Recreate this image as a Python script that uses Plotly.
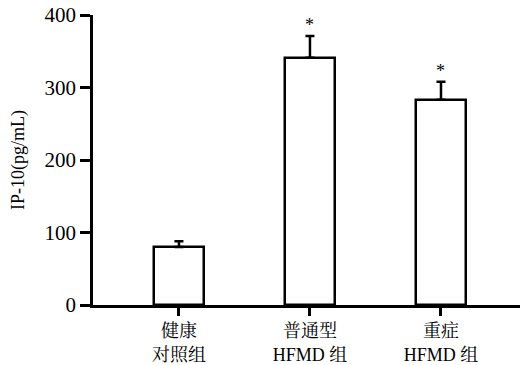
import plotly.graph_objects as go

categories = ["健康<br>对照组", "普通型<br>HFMD 组", "重症<br>HFMD 组"]
means = [80, 341, 283]
err_upper = [8, 30, 25]
y_ticks = [0, 100, 200, 300, 400]
sig_marks = ["", "*", "*"]

font_fam = "Liberation Serif, Noto Serif CJK SC, Noto Sans CJK SC, serif"

xs = list(range(len(categories)))

fig = go.Figure()
fig.add_trace(go.Bar(
    x=xs, y=means, width=0.375,
    marker=dict(color="white", line=dict(color="black", width=2.5)),
    error_y=dict(type="data", symmetric=False, array=err_upper,
                 arrayminus=[0] * len(means), color="black",
                 thickness=2.5, width=4.5),
    showlegend=False, hoverinfo="skip",
))

for x, m, e, s in zip(xs, means, err_upper, sig_marks):
    if s:
        fig.add_annotation(x=x, y=m + e, text=s, showarrow=False,
                           yanchor="bottom", yshift=-1,
                           font=dict(family=font_fam, size=18, color="black"))

fig.update_layout(
    width=526, height=365,
    margin=dict(l=93, r=6, t=15, b=60),
    plot_bgcolor="white", paper_bgcolor="white",
    font=dict(family=font_fam, color="black"),
    bargap=0,
)
fig.update_xaxes(
    range=[-0.656, 2.603], tickmode="array", tickvals=xs, ticktext=categories,
    showline=True, linecolor="black", linewidth=2.5,
    ticks="outside", ticklen=8, tickwidth=2.5, tickcolor="black",
    tickfont=dict(family=font_fam, size=18, color="black"),
    showgrid=False, zeroline=False, automargin=False,
)
fig.update_yaxes(
    range=[0, 400], tickmode="array", tickvals=y_ticks,
    showline=True, linecolor="black", linewidth=2.5,
    ticks="outside", ticklen=10, tickwidth=2.5, tickcolor="black",
    tickfont=dict(family=font_fam, size=21, color="black"),
    title=dict(text="IP-10(pg/mL)", font=dict(family=font_fam, size=18, color="black"), standoff=16),
    showgrid=False, zeroline=False, automargin=False,
)

fig.write_html("out.html", config={"displayModeBar": False},
               post_script="document.body.style.margin='0';document.body.style.padding='0';")
